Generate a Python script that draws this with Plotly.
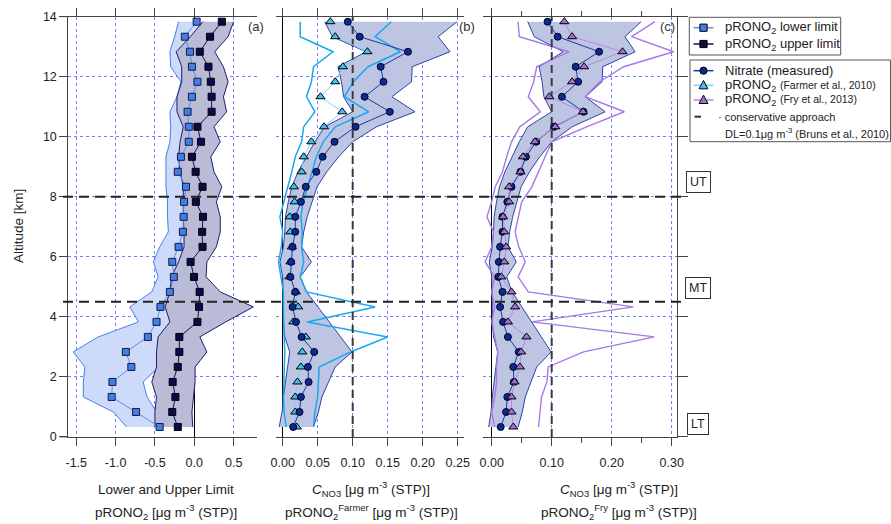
import plotly.graph_objects as go

# ---------------- data (bottom -> top) ----------------
ALT = [0.33, 0.83, 1.33, 1.83, 2.33, 2.83, 3.33, 3.83, 4.33, 4.83, 5.33, 5.83, 6.33, 6.83,
       7.33, 7.83, 8.33, 8.83, 9.33, 9.83, 10.33, 10.83, 11.33, 11.83, 12.33, 12.83, 13.33, 13.83]

# panel (a)
LOWER = [-0.44, -0.74, -1.05, -1.04, -0.80, -0.87, -0.59, -0.48, -0.43, -0.31, -0.26, -0.28, -0.20, -0.145,
         -0.135, -0.13, -0.105, -0.21, -0.17, -0.07, -0.07, -0.085, -0.03, 0.04, -0.03, -0.055, -0.12, 0.03]
UPPER = [-0.21, -0.28, -0.24, -0.275, -0.21, -0.19, -0.19, 0.04, 0.06, 0.068, -0.004, -0.047, 0.105, 0.10,
         0.11, 0.02, 0.105, 0.017, -0.03, 0.085, 0.04, 0.22, 0.22, 0.21, 0.18, 0.07, 0.20, 0.35]
LOWER_MIN = [-0.86, -1.03, -1.41, -1.41, -1.39, -1.54, -1.22, -0.71, -0.82, -0.54, -0.46, -0.52, -0.44, -0.33,
             -0.34, -0.34, -0.36, -0.36, -0.36, -0.31, -0.30, -0.31, -0.22, -0.17, -0.30, -0.31, -0.25, -0.20]
LOWER_MAX = [-0.30, -0.48, -0.60, -0.65, -0.45, -0.35, -0.30, -0.25, -0.25, -0.15, -0.10, -0.12, -0.10, -0.05,
             -0.05, -0.05, -0.04, -0.08, -0.05, 0.0, 0.0, -0.02, 0.02, 0.08, 0.0, -0.02, 0.0, 0.12]
UPPER_MIN = [-0.50, -0.50, -0.48, -0.54, -0.48, -0.48, -0.46, -0.31, -0.37, -0.31, -0.29, -0.20, -0.13, -0.13,
             -0.14, -0.14, -0.14, -0.18, -0.20, -0.18, -0.14, -0.22, -0.22, -0.16, -0.16, -0.23, -0.05, 0.11]
UPPER_MAX = [-0.02, -0.03, -0.01, 0.01, 0.01, 0.16, 0.07, 0.40, 0.75, 0.33, 0.15, 0.16, 0.28, 0.33,
             0.33, 0.28, 0.35, 0.25, 0.21, 0.33, 0.25, 0.41, 0.37, 0.43, 0.37, 0.26, 0.43, 0.50]

# panels (b) and (c)
NITRATE = [0.015, 0.024, 0.026, 0.037, 0.036, 0.045, 0.027, 0.019, 0.014, 0.018, 0.011, 0.012, 0.014, 0.018,
           0.018, 0.026, 0.033, 0.048, 0.057, 0.074, 0.104, 0.153, 0.117, 0.144, 0.140, 0.179, 0.110, 0.093]
NITRATE_MIN = [-0.005, -0.001, 0.001, 0.004, 0.008, 0.010, 0.003, 0.001, 0.001, 0.001, 0.0, -0.004, 0.001, 0.003,
               0.004, 0.008, 0.013, 0.022, 0.034, 0.046, 0.060, 0.10, 0.087, 0.084, 0.079, 0.119, 0.071, 0.060]
NITRATE_MAX = [0.044, 0.051, 0.056, 0.065, 0.075, 0.099, 0.083, 0.067, 0.05, 0.034, 0.025, 0.041, 0.027, 0.030,
               0.035, 0.042, 0.049, 0.063, 0.080, 0.10, 0.134, 0.189, 0.156, 0.184, 0.185, 0.239, 0.222, 0.249]
FARMER = [0.020, 0.018, 0.018, 0.021, 0.026, 0.028, 0.033, 0.015, 0.022, 0.019, 0.0095, 0.011, 0.013, 0.011,
          0.010, 0.017, 0.016, 0.027, 0.030, 0.041, 0.059, 0.085, 0.054, 0.075, 0.086, 0.121, 0.075, 0.068]
FARMER_MIN = [0.005, 0.002, 0.001, 0.002, 0.002, 0.003, 0.002, 0.001, 0.001, 0.001, -0.003, -0.006, -0.002, 0.0,
              -0.004, 0.002, 0.008, 0.013, 0.018, 0.027, 0.030, 0.046, 0.034, 0.041, 0.044, 0.072, 0.025, 0.025]
FARMER_MAX = [0.044, 0.046, 0.050, 0.051, 0.052, 0.097, 0.150, 0.035, 0.132, 0.034, 0.025, 0.030, 0.027, 0.028,
              0.026, 0.029, 0.036, 0.042, 0.048, 0.058, 0.075, 0.123, 0.088, 0.101, 0.122, 0.168, 0.132, 0.155]
FRY = [0.036, 0.033, 0.033, 0.038, 0.047, 0.049, 0.058, 0.027, 0.039, 0.033, 0.016, 0.021, 0.024, 0.021,
       0.019, 0.029, 0.029, 0.048, 0.052, 0.072, 0.106, 0.152, 0.096, 0.134, 0.154, 0.218, 0.134, 0.121]
FRY_MIN = [0.005, 0.0, 0.005, 0.008, 0.008, 0.01, 0.005, 0.0, 0.005, 0.0, 0.005, -0.011, 0.0, 0.003,
           -0.008, 0.0, 0.006, 0.018, 0.025, 0.033, 0.047, 0.081, 0.061, 0.07, 0.075, 0.129, 0.046, 0.044]
FRY_MAX = [0.078, 0.081, 0.083, 0.092, 0.094, 0.153, 0.271, 0.067, 0.236, 0.061, 0.044, 0.056, 0.045, 0.039,
           0.044, 0.05, 0.067, 0.078, 0.089, 0.10, 0.158, 0.221, 0.156, 0.180, 0.22, 0.303, 0.233, 0.272]

DL = 0.1
LAYER_BOUNDS = [8.0, 4.5]
LAYER_LABELS = [("UT", 182), ("MT", 288), ("LT", 424)]

# ---------------- geometry helpers ----------------
W, H = 891, 524
def px(x): return x / W
def py(y): return 1 - y / H

FONT = "Liberation Sans, Arial, sans-serif"
GRID = "#7a7aff"
AXC = "#444444"

# styles
C_LOW_LINE, C_LOW_MK = "#5a8ef0", "#3f7fe6"
C_UP_LINE, C_UP_MK = "#12124e", "#0a0a4e"
C_NIT_LINE, C_NIT_MK = "#1a3a9c", "#0c2b8c"
C_FAR_LINE, C_FAR_MK, C_FAR_BAND = "#7fd2f6", "#3ec3f2", "#18a8f0"
C_FRY_LINE, C_FRY_MK, C_FRY_BAND = "#b28ae6", "#a070d8", "#a778e6"

fig = go.Figure()

def band(xmin, xmax, xa, ya, fillcolor, lc, lw=1.0):
    poly_x = list(xmin) + list(xmax)[::-1]
    poly_y = list(ALT) + list(ALT)[::-1]
    fig.add_trace(go.Scatter(x=poly_x, y=poly_y, xaxis=xa, yaxis=ya, mode="lines",
                             fill="toself", fillcolor=fillcolor, line=dict(width=0),
                             showlegend=False, hoverinfo="skip"))
    for xs in (xmin, xmax):
        fig.add_trace(go.Scatter(x=xs, y=ALT, xaxis=xa, yaxis=ya, mode="lines",
                                 line=dict(color=lc, width=lw), showlegend=False, hoverinfo="skip"))

def edge(xs, xa, ya, color, lw=1.4):
    fig.add_trace(go.Scatter(x=xs, y=ALT, xaxis=xa, yaxis=ya, mode="lines",
                             line=dict(color=color, width=lw), showlegend=False, hoverinfo="skip"))

def series(xs, xa, ya, lc, mc, symbol, size, olc="#000"):
    fig.add_trace(go.Scatter(x=xs, y=ALT, xaxis=xa, yaxis=ya, mode="lines+markers", showlegend=False,
                             line=dict(color=lc, width=1),
                             marker=dict(symbol=symbol, size=size, color=mc, line=dict(color=olc, width=1))))

# ---------- panel (a) ----------
band(LOWER_MIN, LOWER_MAX, "x", "y", "rgb(205,218,250)", "#4a7ee8")
band(UPPER_MIN, UPPER_MAX, "x", "y", "rgb(186,187,215)", "#1c1c70")
series(LOWER, "x", "y", C_LOW_LINE, C_LOW_MK, "square", 7, "#1a1a40")
series(UPPER, "x", "y", C_UP_LINE, C_UP_MK, "square", 7)

# ---------- panel (b) ----------
band(NITRATE_MIN, NITRATE_MAX, "x2", "y2", "rgb(189,197,227)", "#2a44a8")
edge(FARMER_MIN, "x2", "y2", C_FAR_BAND, 1.5)
edge(FARMER_MAX, "x2", "y2", C_FAR_BAND, 1.5)
fig.add_trace(go.Scatter(x=[DL, DL], y=[0, 14], xaxis="x2", yaxis="y2", mode="lines", showlegend=False,
                         line=dict(color="#3a3a3a", width=2, dash="8px,5px")))
series(FARMER, "x2", "y2", C_FAR_LINE, C_FAR_MK, "triangle-up", 8)
series(NITRATE, "x2", "y2", C_NIT_LINE, C_NIT_MK, "circle", 7, "#00002a")

# ---------- panel (c) ----------
band(NITRATE_MIN, NITRATE_MAX, "x3", "y3", "rgb(189,197,227)", "#2a44a8")
edge(FRY_MIN, "x3", "y3", C_FRY_BAND, 1.4)
edge(FRY_MAX, "x3", "y3", C_FRY_BAND, 1.4)
fig.add_trace(go.Scatter(x=[DL, DL], y=[0, 14], xaxis="x3", yaxis="y3", mode="lines", showlegend=False,
                         line=dict(color="#3a3a3a", width=2, dash="8px,5px")))
series(NITRATE, "x3", "y3", C_NIT_LINE, C_NIT_MK, "circle", 7, "#00002a")
series(FRY, "x3", "y3", C_FRY_LINE, C_FRY_MK, "triangle-up", 8)

# ---------------- axes ----------------
YDOM = [py(436.9), py(16.6)]
tickfont = dict(family=FONT, size=12.5, color="#222")
common_x = dict(ticks="outside", ticklen=8, tickcolor=AXC, showline=True, linecolor=AXC, linewidth=1,
                mirror="ticks", showgrid=True, gridcolor=GRID, griddash="dot", gridwidth=1,
                zeroline=True, zerolinecolor="#000", zerolinewidth=1.5, tickfont=tickfont,
                ticklabelstandoff=6, fixedrange=True)
fig.update_layout(
    xaxis=dict(domain=[px(68.3), px(256.7)], range=[-1.601, 0.793], anchor="y",
               tickvals=[-1.5, -1.0, -0.5, 0.0, 0.5], ticktext=["-1.5", "-1.0", "-0.5", "0.0", "0.5"],
               **common_x),
    xaxis2=dict(domain=[px(276), px(464)], range=[-0.00957, 0.259], anchor="y2",
                tickvals=[0, 0.05, 0.10, 0.15, 0.20, 0.25],
                ticktext=["0.00", "0.05", "0.10", "0.15", "0.20", "0.25"], **common_x),
    xaxis3=dict(domain=[px(482.7), px(676.7)], range=[-0.015, 0.3083], anchor="y3",
                tickvals=[0, 0.10, 0.20, 0.30], ticktext=["0.00", "0.10", "0.20", "0.30"],
                minor=dict(tickvals=[0.05, 0.15, 0.25], ticks="outside", ticklen=5, tickcolor=AXC,
                           showgrid=False),
                **common_x),
    yaxis=dict(domain=YDOM, range=[0, 14], anchor="x", tickvals=list(range(0, 15, 2)),
               ticks="outside", ticklen=8, tickcolor=AXC, showline=True, linecolor=AXC,
               showgrid=True, gridcolor=GRID, griddash="dot", zeroline=False, tickfont=tickfont,
               fixedrange=True),
    yaxis2=dict(domain=YDOM, range=[0, 14], anchor="x2", tickvals=list(range(0, 15, 2)),
                showticklabels=False, ticks="", showline=False, showgrid=True, gridcolor=GRID,
                griddash="dot", zeroline=False, fixedrange=True),
    yaxis3=dict(domain=YDOM, range=[0, 14], anchor="x3", side="right", tickvals=list(range(0, 15, 2)),
                showticklabels=False, ticks="outside", ticklen=10, tickcolor=AXC, showline=True,
                linecolor=AXC, showgrid=True, gridcolor=GRID, griddash="dot", zeroline=False,
                fixedrange=True),
)

# ---------------- shapes ----------------
shapes = []
for b in LAYER_BOUNDS:
    shapes.append(dict(type="line", xref="paper", yref="y", x0=px(63), x1=px(681), y0=b, y1=b,
                       line=dict(color="#222", width=2, dash="10px,6px"), layer="above"))
# axis line extensions of panel (a) (Igor style)
for yy in (436.9, 16.6):
    shapes.append(dict(type="line", xref="paper", yref="paper", x0=px(60), x1=px(68.3),
                       y0=py(yy), y1=py(yy), line=dict(color=AXC, width=1)))

# ---------------- legend (drawn as a key box) ----------------
def pline(x0, x1, y, color, width=1.5, dash=None):
    ln = dict(color=color, width=width)
    if dash:
        ln["dash"] = dash
    shapes.append(dict(type="line", xref="paper", yref="paper", x0=px(x0), x1=px(x1),
                       y0=py(y), y1=py(y), line=ln))

def prect(x0, y0, x1, y1, fill="white", lc="#555", lw=1):
    shapes.append(dict(type="rect", xref="paper", yref="paper", x0=px(x0), x1=px(x1),
                       y0=py(y1), y1=py(y0), fillcolor=fill, line=dict(color=lc, width=lw)))

def glyph(kind, cx, cy, color, r=3.6):
    if kind == "square":
        prect(cx - r, cy - r, cx + r, cy + r, fill=color, lc="#000", lw=1)
    elif kind == "circle":
        shapes.append(dict(type="circle", xref="paper", yref="paper", x0=px(cx - r), x1=px(cx + r),
                           y0=py(cy + r), y1=py(cy - r), fillcolor=color, line=dict(color="#000", width=1)))
    else:
        r = r + 0.8
        path = "M {} {} L {} {} L {} {} Z".format(px(cx - r), py(cy + r * 0.8), px(cx + r), py(cy + r * 0.8),
                                                  px(cx), py(cy - r * 1.1))
        shapes.append(dict(type="path", xref="paper", yref="paper", path=path, fillcolor=color,
                           line=dict(color="#000", width=1)))

prect(689.3, 17.3, 840.7, 55.0)
prect(690.0, 60.0, 890.5, 141.7)
GX0, GX1, GXC, TX = 693.5, 713.5, 703.5, 722.5
LEG1 = [("pRONO<sub>2</sub> lower limit", 27.7, C_LOW_LINE, C_LOW_MK, "square"),
        ("pRONO<sub>2</sub> upper limit", 44.0, C_UP_LINE, C_UP_MK, "square")]
LEG2 = [("Nitrate (measured)", 70.7, C_NIT_LINE, C_NIT_MK, "circle"),
        ("pRONO<sub>2</sub> <span style='font-size:10.5px'>(Farmer et al., 2010)</span>", 85.3,
         C_FAR_LINE, C_FAR_MK, "triangle"),
        ("pRONO<sub>2</sub> <span style='font-size:10.5px'>(Fry et al., 2013)</span>", 100.0,
         C_FRY_LINE, C_FRY_MK, "triangle")]

ann = []
tf = dict(family=FONT, size=13.5, color="#222")
def A(text, x, y, **kw):
    d = dict(text=text, x=px(x), y=py(y), xref="paper", yref="paper", showarrow=False,
             font=kw.pop("font", tf), xanchor=kw.pop("xanchor", "center"), yanchor=kw.pop("yanchor", "middle"))
    d.update(kw)
    ann.append(d)

legfont = dict(family=FONT, size=13, color="#222")
for label, yy, lc, mc, kind in LEG1 + LEG2:
    pline(GX0, GX1, yy, lc, 1.5)
    glyph(kind, GXC, yy, mc)
    A(label, TX, yy, xanchor="left", font=legfont)
pline(694.5, 701.0, 116.7, "#333", 2)
A("· conservative approach", 716.0, 116.7, xanchor="left", font=dict(family=FONT, size=11, color="#222"))
A("DL=0.1μg m<sup>-3</sup> (Bruns et al., 2010)", 722.5, 133.3, xanchor="left",
  font=dict(family=FONT, size=11, color="#222"))

fig.update_layout(shapes=shapes)

# ---------------- annotations ----------------
A("Lower and Upper Limit", 166, 489)
A("pRONO<sub>2</sub> [μg m<sup>-3</sup> (STP)]", 166, 512)
A("<i>C</i><sub>NO3</sub> [μg m<sup>-3</sup> (STP)]", 371, 489)
A("pRONO<sub>2</sub><sup>Farmer</sup> [μg m<sup>-3</sup> (STP)]", 371, 512)
A("<i>C</i><sub>NO3</sub> [μg m<sup>-3</sup> (STP)]", 619, 489)
A("pRONO<sub>2</sub><sup>Fry</sup> [μg m<sup>-3</sup> (STP)]", 619, 512)
A("Altitude [km]", 18, 226, textangle=-90)
A("(a)", 256, 26, font=dict(family=FONT, size=13, color="#333"))
A("(b)", 467, 26, font=dict(family=FONT, size=13, color="#333"))
A("(c)", 667, 26, font=dict(family=FONT, size=13, color="#333"))
for lab, yy in LAYER_LABELS:
    A(lab, 698, yy, bordercolor="#333", borderwidth=1, borderpad=3, bgcolor="white",
      font=dict(family=FONT, size=12.5, color="#222"))
fig.update_layout(annotations=ann)

fig.update_layout(
    width=W, height=H, margin=dict(l=0, r=0, t=0, b=0, autoexpand=False), showlegend=False,
    paper_bgcolor="white", plot_bgcolor="white", hovermode=False,
)

fig.write_html("out.html", config=dict(displayModeBar=False, staticPlot=True))
